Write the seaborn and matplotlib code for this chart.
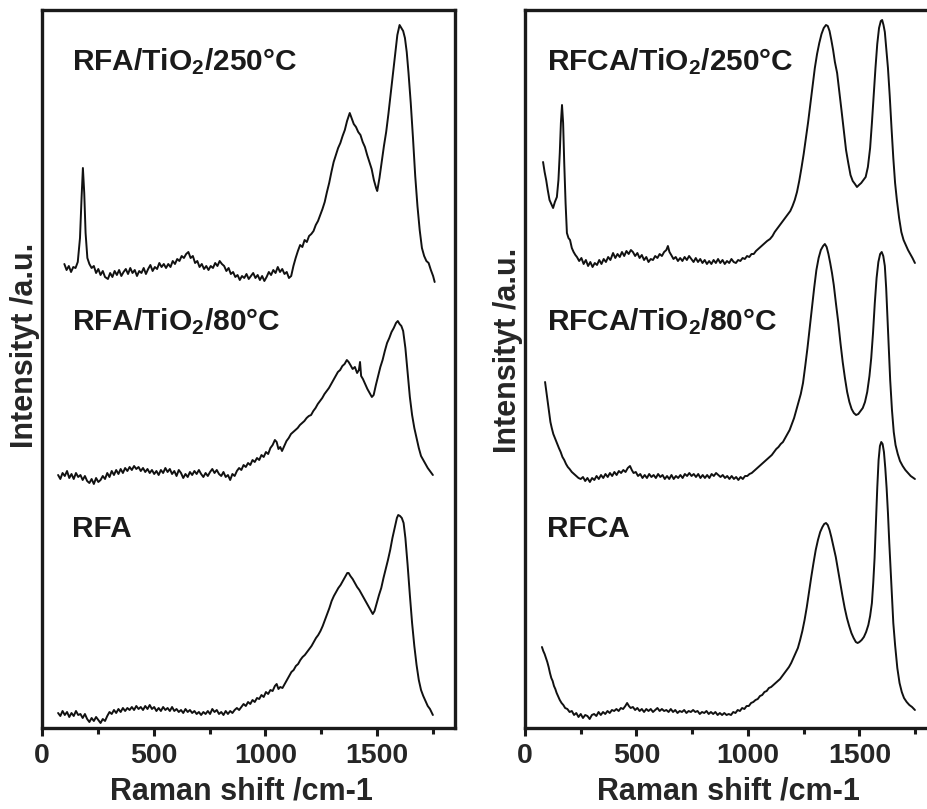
import numpy as np
import pandas as pd
import matplotlib
matplotlib.use("Agg")
import matplotlib.pyplot as plt
from matplotlib.ticker import MultipleLocator
import seaborn as sns

# Raman spectra (stacked intensity in a.u., Raman shift in cm-1)
# left panel: RFA samples
rfa250_w = [100, 110, 120, 130, 140, 150, 160, 170, 177, 183, 189, 195, 203, 212, 222, 232, 242, 252,
            262, 272, 282, 295, 305, 315, 325, 335, 345, 355, 365, 375, 385, 395, 405, 415, 425, 435,
            445, 455, 465, 475, 485, 495, 505, 515, 525, 535, 545, 555, 565, 575, 585, 595, 605, 615,
            625, 635, 645, 655, 665, 675, 685, 695, 705, 715, 725, 735, 745, 755, 765, 775, 785, 795,
            805, 815, 825, 835, 845, 855, 865, 875, 885, 895, 905, 915, 925, 935, 945, 955, 965, 975,
            985, 995, 1005, 1015, 1025, 1035, 1045, 1055, 1065, 1075, 1085, 1095, 1105, 1115, 1125,
            1135, 1145, 1155, 1165, 1175, 1185, 1195, 1205, 1215, 1225, 1235, 1245, 1255, 1265, 1275,
            1285, 1295, 1305, 1315, 1325, 1335, 1345, 1355, 1365, 1377, 1385, 1395, 1405, 1415, 1425,
            1435, 1445, 1455, 1465, 1475, 1485, 1495, 1500, 1510, 1520, 1530, 1540, 1550, 1560, 1570,
            1580, 1590, 1600, 1608, 1616, 1624, 1632, 1640, 1650, 1660, 1670, 1680, 1690, 1700, 1710,
            1720, 1730, 1740, 1750, 1757]
rfa250_i = [464, 458, 462, 456, 461, 460, 466, 490, 530, 560, 535, 495, 470, 464, 460, 462, 455, 459,
            453, 457, 451, 449, 455, 451, 457, 453, 458, 452, 456, 459, 454, 460, 455, 458, 452, 457,
            455, 460, 454, 459, 463, 457, 461, 459, 465, 461, 464, 460, 464, 461, 467, 464, 469, 467,
            472, 470, 474, 476, 470, 472, 465, 467, 461, 464, 459, 462, 458, 462, 460, 465, 462, 467,
            464, 462, 457, 460, 454, 456, 451, 453, 448, 452, 450, 454, 449, 452, 455, 450, 453, 448,
            452, 447, 451, 456, 453, 458, 455, 461, 456, 459, 454, 456, 450, 452, 462,
            470, 477, 483, 481, 488, 486, 492, 494, 497, 503, 507, 513, 519, 526, 536,
            545, 556, 566, 573, 580, 585, 592, 598, 607, 615, 610, 604, 601, 596, 593,
            586, 581, 573, 566, 559, 548, 540, 537, 550, 566, 582, 596, 614, 634, 655,
            675, 693, 703, 700, 697, 690, 676, 655, 625, 590, 552, 522, 498, 480, 472,
            467, 465, 458, 452, 446]

rfa80_w = [72, 82, 92, 102, 112, 122, 132, 142, 152, 162, 172, 182, 192, 202, 212, 222, 232, 242,
           252, 262, 272, 282, 292, 302, 312, 322, 332, 342, 352, 362, 372, 382, 392, 402, 412, 422,
           432, 442, 452, 462, 472, 482, 492, 502, 512, 522, 532, 542, 552, 562, 572, 582, 592, 602,
           612, 622, 632, 642, 652, 662, 672, 682, 692, 702, 712, 722, 732, 742, 752, 762, 772, 782,
           792, 802, 812, 822, 832, 842, 852, 862, 872, 882, 892, 902, 912, 922, 932, 942, 952, 962,
           972, 982, 992, 1002, 1012, 1022, 1032, 1042, 1050, 1058, 1066, 1074, 1084, 1094, 1104,
           1114, 1124, 1134, 1144, 1154, 1164, 1174, 1184, 1194, 1204, 1214, 1224, 1234, 1244, 1254,
           1264, 1274, 1284, 1294, 1304, 1314, 1324, 1334, 1344, 1354, 1364, 1372, 1380, 1390, 1400,
           1410, 1418, 1423, 1428, 1436, 1446, 1456, 1466, 1476, 1484, 1494, 1504, 1514, 1524, 1534,
           1544, 1554, 1564, 1574, 1584, 1592, 1600, 1608, 1616, 1626, 1636, 1646, 1656, 1666, 1676,
           1686, 1696, 1706, 1716, 1726, 1736, 1749]
rfa80_i = [253, 249, 255, 252, 257, 250, 254, 249, 255, 251, 253, 248, 252, 247, 245, 249, 244, 250,
           246, 248, 252, 249, 255, 251, 257, 253, 258, 254, 259, 255, 260, 257, 261, 258, 262, 259,
           261, 257, 260, 256, 259, 255, 258, 254, 257, 253, 258, 255, 260, 256, 259, 254, 257, 252,
           258, 255, 250, 254, 251, 256, 253, 257, 254, 258, 254, 251, 255, 252, 256, 259, 255, 258,
           254, 252, 256, 251, 253, 248, 254, 252, 257, 260, 258, 263, 261, 265, 263, 268, 266, 270,
           268, 273, 271, 276, 274, 280, 283, 288, 286, 279, 281, 277, 282, 287, 290,
           294, 296, 298, 300, 303, 305, 307, 310, 312, 313, 317, 320, 324, 327, 330,
           334, 337, 340, 344, 348, 352, 356, 358, 362, 364, 368, 366, 363, 359, 361,
           355, 358, 366, 352, 349, 344, 339, 335, 331, 333, 343, 352, 361, 368, 377,
           385, 390, 396, 400, 405, 407, 404, 402, 397, 380, 356, 331, 313, 300, 290,
           280, 272, 268, 264, 260, 257, 253]

rfa_w = [72, 82, 92, 102, 112, 122, 132, 142, 152, 162, 172, 182, 192, 202, 212, 222, 232, 242,
         252, 262, 272, 282, 292, 302, 312, 322, 332, 342, 352, 362, 372, 382, 392, 402, 412, 422,
         432, 442, 452, 462, 472, 482, 492, 502, 512, 522, 532, 542, 552, 562, 572, 582, 592, 602,
         612, 622, 632, 642, 652, 662, 672, 682, 692, 702, 712, 722, 732, 742, 752, 762, 772, 782,
         792, 802, 812, 822, 832, 842, 852, 862, 872, 882, 892, 902, 912, 922, 932, 942, 952, 962,
         972, 982, 992, 1002, 1012, 1022, 1032, 1042, 1050, 1058, 1066, 1076, 1086, 1096, 1106,
         1116, 1126, 1136, 1146, 1156, 1166, 1176, 1186, 1196, 1206, 1216, 1226, 1236, 1246, 1256,
         1266, 1276, 1286, 1296, 1306, 1316, 1326, 1336, 1346, 1356, 1366, 1372, 1380, 1390, 1400,
         1410, 1420, 1430, 1440, 1450, 1460, 1470, 1480, 1488, 1498, 1508, 1518, 1528, 1538, 1548,
         1558, 1568, 1578, 1588, 1594, 1602, 1610, 1618, 1626, 1636, 1646, 1656, 1666, 1676, 1686,
         1696, 1706, 1716, 1726, 1736, 1749]
rfa_i = [15, 12, 17, 13, 16, 11, 15, 12, 17, 13, 14, 10, 14, 9, 6, 10, 7, 11,
         8, 5, 9, 7, 12, 16, 14, 18, 15, 19, 16, 20, 17, 20, 18, 21, 18, 22,
         19, 21, 18, 22, 19, 23, 19, 21, 17, 20, 17, 21, 18, 20, 17, 21, 17, 19,
         16, 18, 15, 19, 16, 18, 15, 17, 14, 16, 13, 16, 14, 17, 14, 19, 16, 18,
         14, 16, 13, 17, 14, 17, 15, 18, 20, 18, 21, 24, 22, 26, 24, 28, 26, 30,
         29, 33, 31, 36, 34, 38, 37, 42, 44, 39, 41, 40, 44, 48, 52,
         56, 58, 62, 64, 68, 71, 73, 76, 79, 82, 86, 90, 93, 97, 102,
         108, 114, 120, 127, 132, 136, 140, 143, 147, 151, 155, 155, 152, 149, 145,
         141, 138, 134, 130, 126, 122, 118, 114, 117, 125, 133, 140, 150, 159, 168,
         178, 190, 200, 210, 213, 212, 210, 205, 190, 163, 133, 105, 82, 63, 48,
         38, 32, 27, 22, 19, 13]

# right panel: RFCA samples
rfca250_w = [81, 88, 95, 102, 110, 118, 126, 134, 143, 150, 156, 161, 166, 171, 176, 182, 188, 195,
             202, 210, 218, 226, 233, 243, 253, 263, 273, 283, 293, 303, 313, 323, 333, 343, 353, 363,
             373, 383, 395, 405, 415, 425, 435, 445, 455, 465, 475, 484, 494, 504, 514, 524, 534, 544,
             554, 564, 574, 584, 594, 604, 614, 624, 634, 641, 648, 656, 666, 676, 686, 696, 706, 716,
             726, 736, 746, 756, 766, 776, 786, 796, 806, 816, 826, 836, 846, 856, 866, 876, 886, 896,
             906, 916, 926, 936, 946, 956, 966, 976, 986, 996, 1006, 1016, 1026, 1036, 1046, 1056,
             1066, 1076, 1086, 1099, 1110, 1120, 1130, 1140, 1150, 1160, 1170, 1180, 1190, 1200, 1210,
             1220, 1230, 1240, 1250, 1260, 1270, 1280, 1290, 1300, 1310, 1320, 1330, 1340, 1350, 1358,
             1366, 1374, 1382, 1390, 1400, 1410, 1420, 1430, 1440, 1450, 1460, 1470, 1480, 1489, 1498,
             1508, 1518, 1528, 1538, 1548, 1556, 1564, 1572, 1580, 1588, 1596, 1602, 1608, 1614, 1620,
             1628, 1636, 1644, 1652, 1660, 1668, 1678, 1688, 1698, 1708, 1718, 1728, 1738, 1749]
rfca250_i = [566, 556, 548, 538, 528, 524, 520, 526, 531, 548, 575, 605, 623, 605, 565, 525, 495, 490,
             488, 480, 476, 473, 471, 467, 470, 464, 468, 462, 466, 461, 465, 463, 468, 464, 469, 466,
             471, 468, 475, 470, 474, 471, 476, 472, 477, 474, 478, 476, 472, 475, 470, 473, 468, 471,
             466, 469, 468, 472, 470, 474, 472, 476, 478, 482, 476, 473, 469, 471, 467, 470, 467, 471,
             468, 472, 469, 466, 470, 466, 469, 465, 468, 464, 467, 464, 468, 465, 469, 465, 468, 464,
             467, 465, 469, 466, 465, 468, 467, 470, 469, 472, 471, 474, 474, 477, 479, 481,
             483, 485, 487, 489, 492, 496, 499, 502, 505, 508, 511, 514, 517, 522, 528,
             536, 547, 560, 574, 590, 606, 624, 642, 660, 674, 685, 694, 700, 703, 702,
             697, 688, 678, 666, 655, 636, 617, 597, 578, 565, 553, 547, 544, 541, 543,
             545, 548, 551, 561, 580, 605, 632, 660, 684, 700, 707, 708, 703, 696, 681,
             660, 632, 600, 570, 545, 528, 510, 496, 488, 483, 478, 474, 470, 465]

rfca80_w = [90, 96, 102, 108, 114, 120, 127, 134, 143, 152, 160, 168, 176, 184, 192, 200, 210, 220,
            230, 240, 250, 260, 270, 280, 291, 301, 311, 321, 331, 341, 351, 361, 371, 381, 391, 401,
            411, 421, 431, 441, 451, 461, 471, 479, 487, 497, 507, 517, 527, 537, 547, 557, 567, 577,
            587, 597, 607, 617, 627, 637, 647, 657, 667, 677, 687, 697, 707, 717, 727, 737, 747, 757,
            767, 777, 787, 797, 807, 817, 827, 837, 847, 857, 867, 877, 887, 897, 907, 917, 927, 937,
            947, 957, 967, 977, 987, 997, 1007, 1017, 1027, 1037, 1047, 1057, 1067, 1077, 1087, 1097,
            1107, 1117, 1127, 1137, 1147, 1157, 1167, 1177, 1187, 1197, 1207, 1217, 1227, 1237, 1247,
            1257, 1267, 1277, 1287, 1297, 1307, 1317, 1327, 1337, 1345, 1353, 1361, 1369, 1377, 1385,
            1395, 1405, 1415, 1425, 1435, 1445, 1455, 1465, 1475, 1485, 1495, 1505, 1515, 1525, 1535,
            1545, 1553, 1561, 1569, 1577, 1585, 1593, 1600, 1607, 1614, 1620, 1626, 1632, 1638, 1646,
            1654, 1662, 1672, 1682, 1694, 1706, 1718, 1730, 1749]
rfca80_i = [346, 336, 326, 316, 306, 300, 294, 290, 285, 280, 276, 271, 268, 264, 261, 259, 256, 254,
            252, 250, 249, 251, 247, 250, 246, 250, 248, 252, 249, 253, 250, 254, 251, 255, 252, 256,
            253, 257, 255, 258, 256, 260, 262, 258, 255, 256, 252, 254, 250, 253, 250, 254, 251, 253,
            250, 254, 251, 253, 249, 252, 249, 253, 249, 252, 250, 253, 250, 254, 252, 255, 252, 254,
            251, 254, 250, 253, 250, 253, 250, 254, 252, 255, 253, 251, 253, 250, 252, 249, 252, 249,
            251, 248, 251, 249, 252, 252, 254, 255, 257, 259, 261, 263, 265, 267, 269, 271,
            273, 276, 279, 281, 284, 286, 290, 294, 298, 304, 310, 318, 326, 334, 345,
            362, 380, 400, 420, 440, 458, 470, 478, 482, 484, 481, 474, 465, 455, 443,
            424, 406, 385, 366, 350, 336, 326, 319, 315, 313, 314, 317, 320, 326, 336,
            352, 370, 395, 425, 450, 466, 474, 476, 472, 462, 440, 410, 378, 348, 318,
            296, 283, 274, 267, 262, 258, 255, 252, 249]

rfca_w = [76, 82, 88, 94, 100, 106, 112, 118, 124, 130, 136, 142, 148, 156, 164, 172, 180, 190,
          200, 210, 220, 230, 240, 250, 260, 270, 280, 290, 300, 310, 320, 330, 340, 350, 360, 370,
          380, 390, 400, 410, 420, 430, 440, 450, 458, 466, 474, 484, 494, 504, 514, 524, 534, 544,
          554, 564, 574, 584, 594, 604, 614, 624, 634, 644, 654, 664, 674, 684, 694, 704, 714, 724,
          734, 744, 754, 764, 774, 784, 794, 804, 814, 824, 834, 844, 854, 864, 874, 884, 894, 904,
          914, 924, 934, 944, 954, 964, 974, 984, 994, 1004, 1014, 1024, 1034, 1044, 1054, 1064,
          1074, 1084, 1094, 1104, 1114, 1124, 1134, 1144, 1154, 1164, 1174, 1184, 1194, 1204, 1214,
          1224, 1234, 1244, 1254, 1264, 1274, 1284, 1294, 1304, 1314, 1324, 1334, 1342, 1350, 1358,
          1366, 1374, 1384, 1394, 1404, 1414, 1424, 1434, 1444, 1454, 1464, 1474, 1484, 1492, 1500,
          1510, 1520, 1530, 1540, 1548, 1556, 1562, 1568, 1574, 1580, 1586, 1592, 1598, 1604, 1610,
          1616, 1622, 1628, 1634, 1640, 1646, 1652, 1660, 1670, 1680, 1690, 1700, 1712, 1724, 1736,
          1749]
rfca_i = [81, 77, 74, 70, 66, 61, 55, 50, 47, 42, 39, 35, 32, 28, 25, 23, 20, 19,
          16, 17, 13, 15, 11, 14, 10, 13, 12, 9, 13, 14, 12, 16, 13, 16, 14, 17,
          15, 18, 17, 19, 17, 20, 19, 22, 25, 22, 20, 21, 18, 20, 17, 19, 16, 19,
          17, 19, 16, 18, 20, 17, 19, 17, 18, 16, 19, 16, 18, 15, 17, 16, 18, 15,
          17, 16, 18, 16, 17, 14, 16, 15, 17, 14, 16, 14, 16, 13, 15, 13, 15, 13,
          14, 13, 16, 15, 18, 17, 20, 19, 22, 22, 25, 26, 28, 29, 32, 33,
          36, 37, 40, 41, 43, 45, 47, 49, 52, 55, 58, 61, 65, 70, 75,
          80, 88, 97, 108, 121, 136, 151, 165, 178, 188, 196, 201, 204, 205, 203,
          198, 191, 181, 171, 158, 145, 132, 120, 110, 102, 95, 90, 86, 85, 86,
          88, 91, 96, 103, 112, 125, 145, 170, 205, 240, 268, 282, 286, 284, 276,
          260, 240, 215, 185, 158, 130, 105, 83, 60, 45, 36, 30, 26, 23, 21,
          18]

left_labels = ["RFA/TiO$_2$/250°C", "RFA/TiO$_2$/80°C", "RFA"]
right_labels = ["RFCA/TiO$_2$/250°C", "RFCA/TiO$_2$/80°C", "RFCA"]
label_y = [0.916, 0.554, 0.266]

sns.set_style("ticks")
plt.rcParams["font.family"] = ["Liberation Sans", "DejaVu Sans"]
plt.rcParams["font.weight"] = "bold"
plt.rcParams["mathtext.fontset"] = "custom"
plt.rcParams["mathtext.bf"] = "Liberation Sans:bold"
plt.rcParams["mathtext.rm"] = "Liberation Sans:bold"
plt.rcParams["mathtext.default"] = "bf"

fig = plt.figure(figsize=(9.28, 8.09), dpi=100)
W, H = 928, 809
ax1 = fig.add_axes([42 / W, (H - 728) / H, 413 / W, 718 / H])
ax2 = fig.add_axes([525 / W, (H - 728) / H, 412 / W, 718 / H])

# (axes, spectra, labels, label x, ylabel y, xlabel x)
panels = [
    (ax1, [(rfa250_w, rfa250_i), (rfa80_w, rfa80_i), (rfa_w, rfa_i)], left_labels, 0.073, 0.533, 0.482),
    (ax2, [(rfca250_w, rfca250_i), (rfca80_w, rfca80_i), (rfca_w, rfca_i)], right_labels, 0.053, 0.526, 0.493),
]

for ax, spectra, labels, lx, ly, xx in panels:
    for w, inten in spectra:
        df = pd.DataFrame({"shift": w, "intensity": inten})
        sns.lineplot(data=df, x="shift", y="intensity", ax=ax, color="#111111",
                     linewidth=1.4, sort=False, estimator=None)
    for txt, ty in zip(labels, label_y):
        ax.text(lx, ty, txt, transform=ax.transAxes, fontsize=21.5, fontweight="bold",
                ha="left", va="baseline", color="#1a1a1a")
    ax.set_xlim(0, 1848)
    ax.set_ylim(0, 718)
    ax.set_yticks([])
    ax.xaxis.set_major_locator(MultipleLocator(500))
    ax.xaxis.set_minor_locator(MultipleLocator(250))
    ax.tick_params(axis="x", which="major", direction="out", length=6, width=2.2,
                   labelsize=20.5, pad=5, color="#1a1a1a")
    ax.tick_params(axis="x", which="minor", direction="out", length=4, width=2.2, color="#1a1a1a")
    for sp in ax.spines.values():
        sp.set_linewidth(2.4)
        sp.set_color("#1a1a1a")
        sp.set_visible(True)
    for lab in ax.get_xticklabels():
        lab.set_fontweight("bold")
    ax.set_xlabel("Raman shift /cm-1", fontsize=22, fontweight="bold")
    ax.xaxis.set_label_coords(xx, -0.067)
    ax.xaxis.label.set_va("top")
    ax.set_ylabel("Intensityt /a.u.", fontsize=22, fontweight="bold")
    ax.yaxis.set_label_coords(-0.006, ly)

fig.savefig("out.png", dpi=100)
